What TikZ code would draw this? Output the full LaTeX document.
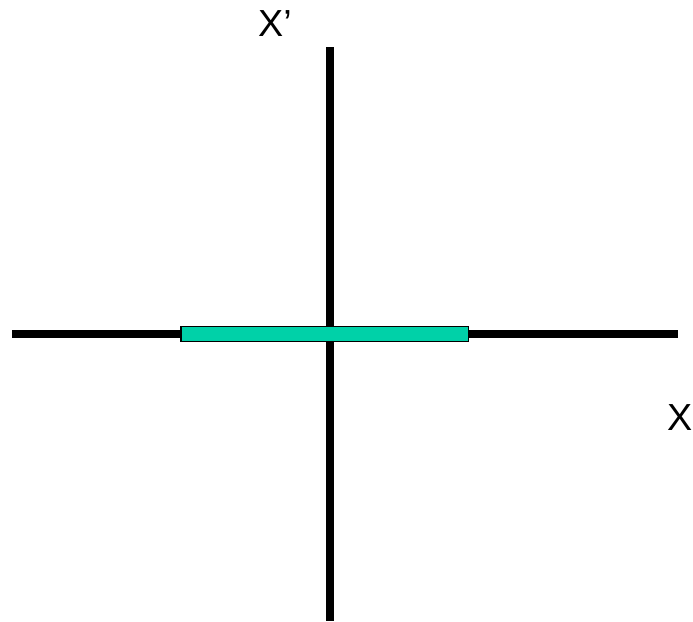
\documentclass[tikz,border=0pt]{standalone}
\usepackage{fontspec}
\setmainfont{Liberation Sans}
\definecolor{barfill}{RGB}{0,209,168}
\tikzset{
  axisline/.style={line width=8pt, black, line cap=butt},
  barbox/.style={draw=black, line width=1.4pt, fill=barfill},
  axislabel/.style={font=\fontsize{37.7}{40}\selectfont, inner sep=0pt, anchor=base west}
}
\begin{document}
\begin{tikzpicture}[x=1pt,y=-1pt]
\useasboundingbox (0,0) rectangle (693,621);
\coordinate (vtop) at (330,47);
\coordinate (vbot) at (330,621);
\coordinate (hleft) at (12,333.5);
\coordinate (hright) at (678,333.5);
\draw[axisline] (vtop) -- (vbot);
\draw[axisline] (hleft) -- (hright);
\draw[barbox] (181,326.5) rectangle (468.5,341.5);
\node[axislabel] (xprime) at (258,36) {X’};
\node[axislabel] (xlab) at (667,430) {X};
\end{tikzpicture}
\end{document}
